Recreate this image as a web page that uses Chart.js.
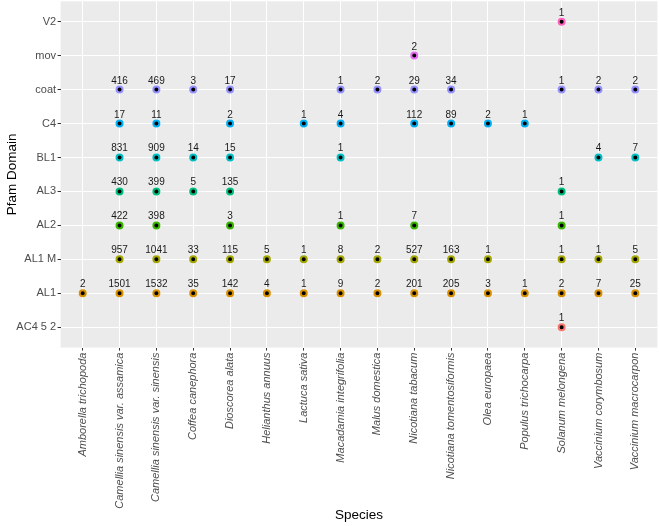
<!DOCTYPE html>
<html>
<head>
<meta charset="utf-8">
<script src="https://cdn.jsdelivr.net/npm/chart.js@4.4.1/dist/chart.umd.min.js"></script>
<style>
  body { margin: 0; background: #fff; }
  #wrap { width: 659px; height: 526px; }
</style>
</head>
<body>
<div id="wrap"><canvas id="pfamChart"></canvas></div>
<script>
// Species on the x axis, left to right
const species = [
    'Amborella trichopoda', 'Camellia sinensis var. assamica', 'Camellia sinensis var. sinensis',
    'Coffea canephora', 'Dioscorea alata', 'Helianthus annuus', 'Lactuca sativa',
    'Macadamia integrifolia', 'Malus domestica', 'Nicotiana tabacum', 'Nicotiana tomentosiformis',
    'Olea europaea', 'Populus trichocarpa', 'Solanum melongena', 'Vaccinium corymbosum',
    'Vaccinium macrocarpon'
];

// Pfam domains on the y axis, bottom to top
const domains = ['AC4 5 2', 'AL1', 'AL1 M', 'AL2', 'AL3', 'BL1', 'C4', 'coat', 'mov', 'V2'];

// counts per domain, one value per species (null = no point)
const ac4_5_2 = [null, null, null, null, null, null, null, null, null, null, null, null, null, 1, null, null];
const al1     = [2, 1501, 1532, 35, 142, 4, 1, 9, 2, 201, 205, 3, 1, 2, 7, 25];
const al1_m   = [null, 957, 1041, 33, 115, 5, 1, 8, 2, 527, 163, 1, null, 1, 1, 5];
const al2     = [null, 422, 398, null, 3, null, null, 1, null, 7, null, null, null, 1, null, null];
const al3     = [null, 430, 399, 5, 135, null, null, null, null, null, null, null, null, 1, null, null];
const bl1     = [null, 831, 909, 14, 15, null, null, 1, null, null, null, null, null, null, 4, 7];
const c4      = [null, 17, 11, null, 2, null, 1, 4, null, 112, 89, 2, 1, null, null, null];
const coat    = [null, 416, 469, 3, 17, null, null, 1, 2, 29, 34, null, null, 1, 2, 2];
const mov     = [null, null, null, null, null, null, null, null, null, 2, null, null, null, null, null, null];
const v2      = [null, null, null, null, null, null, null, null, null, null, null, null, null, 1, null, null];

const counts = [ac4_5_2, al1, al1_m, al2, al3, bl1, c4, coat, mov, v2];
const colours = ['#F8766D', '#D89000', '#A3A500', '#39B600', '#00BF7D',
                 '#00BFC4', '#00B0F6', '#9590FF', '#E76BF3', '#FF62BC'];

const FONT = '"Liberation Sans", Arial, Helvetica, sans-serif';
Chart.defaults.font.family = FONT;

const datasets = domains.map((d, di) => ({
    label: d,
    data: counts[di]
        .map((v, si) => v === null ? null : { x: si, y: di, count: v })
        .filter(p => p !== null),
    backgroundColor: '#000000',
    borderColor: colours[di],
    borderWidth: 2,
    pointRadius: 3,
    pointHoverRadius: 3
}));

// grey panel behind the plot
const panelBg = {
    id: 'panelBg',
    beforeDraw(chart) {
        const a = chart.chartArea;
        const ctx = chart.ctx;
        ctx.save();
        ctx.fillStyle = '#EBEBEB';
        ctx.fillRect(a.left, a.top, a.right - a.left, a.bottom - a.top);
        ctx.restore();
    }
};

// count labels above each point
const countLabels = {
    id: 'countLabels',
    afterDatasetsDraw(chart) {
        const ctx = chart.ctx;
        ctx.save();
        ctx.font = '10px ' + FONT;
        ctx.fillStyle = '#1A1A1A';
        ctx.textAlign = 'center';
        ctx.textBaseline = 'alphabetic';
        chart.data.datasets.forEach((ds, i) => {
            chart.getDatasetMeta(i).data.forEach((pt, j) => {
                ctx.fillText(String(ds.data[j].count), pt.x, pt.y - 6);
            });
        });
        ctx.restore();
    }
};

new Chart(document.getElementById('pfamChart'), {
    type: 'scatter',
    data: { datasets: datasets },
    options: {
        responsive: true,
        maintainAspectRatio: false,
        animation: false,
        layout: { autoPadding: false, padding: { top: 1.3, right: 1.6, bottom: 0, left: 0 } },
        plugins: {
            legend: { display: false },
            tooltip: { enabled: false }
        },
        scales: {
            x: {
                type: 'linear',
                min: -0.6,
                max: species.length - 0.4,
                afterBuildTicks: s => { s.ticks = species.map((_, i) => ({ value: i })); },
                afterFit: s => { s.height = 178.4; s.paddingLeft = 0; s.paddingRight = 0; },
                grid: { color: '#FFFFFF', lineWidth: 1, tickColor: '#333333', tickLength: 3 },
                border: { display: false },
                ticks: {
                    autoSkip: false,
                    minRotation: 90,
                    maxRotation: 90,
                    padding: 2,
                    color: '#4D4D4D',
                    font: { size: 11, style: 'italic' },
                    callback: v => species[v]
                },
                title: {
                    display: true,
                    text: 'Species',
                    color: '#000000',
                    font: { size: 13.5 },
                    padding: { top: 0, bottom: 3 }
                }
            },
            y: {
                type: 'linear',
                min: -0.6,
                max: domains.length - 0.4,
                afterBuildTicks: s => { s.ticks = domains.map((_, i) => ({ value: i })); },
                afterFit: s => { s.width = 60.6; s.paddingTop = 0; s.paddingBottom = 0; },
                grid: { color: '#FFFFFF', lineWidth: 1, tickColor: '#333333', tickLength: 3 },
                border: { display: false },
                ticks: {
                    autoSkip: false,
                    padding: 1.5,
                    color: '#4D4D4D',
                    font: { size: 11 },
                    callback: v => domains[v]
                },
                title: {
                    display: true,
                    text: 'Pfam Domain',
                    color: '#000000',
                    font: { size: 13.5 },
                    padding: { top: 4, bottom: 0 }
                }
            }
        }
    },
    plugins: [panelBg, countLabels]
});
</script>
</body>
</html>
